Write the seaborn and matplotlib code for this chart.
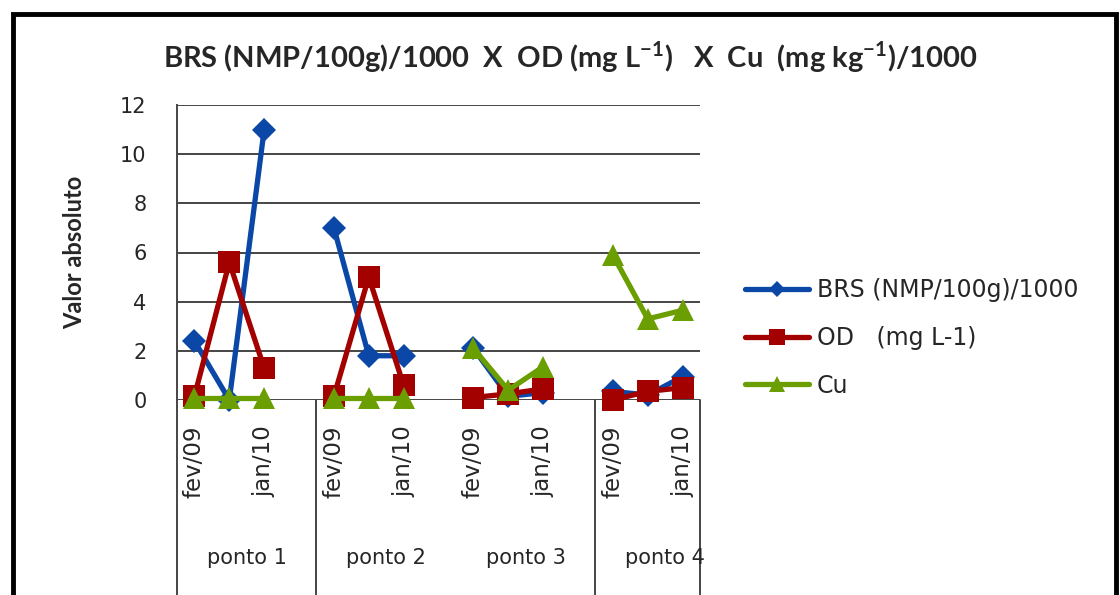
import numpy as np
import pandas as pd
import matplotlib
matplotlib.use("Agg")
import matplotlib.pyplot as plt
import seaborn as sns
from matplotlib.lines import Line2D

# ---- data ----
groups = ["ponto 1", "ponto 2", "ponto 3", "ponto 4"]
months = ["fev/09", "", "jan/10"]
brs = [2.4, 0.0, 11.0, 7.0, 1.8, 1.8, 2.1, 0.15, 0.3, 0.35, 0.2, 0.95]
od = [0.15, 5.6, 1.3, 0.15, 5.0, 0.6, 0.1, 0.25, 0.45, 0.0, 0.35, 0.5]
cu = [0.1, 0.1, 0.1, 0.1, 0.1, 0.1, 2.1, 0.4, 1.35, 5.9, 3.3, 3.65]
series_names = ["BRS (NMP/100g)/1000", "OD   (mg L-1)", "Cu"]
yticks = [0, 2, 4, 6, 8, 10, 12]

sns.set_theme(style="white")
plt.rcParams["font.family"] = ["DejaVu Sans"]
plt.rcParams["mathtext.fontset"] = "custom"
plt.rcParams["mathtext.rm"] = "Lato:bold"
plt.rcParams["mathtext.bf"] = "Lato:bold"

rows = []
for s_name, vals in zip(series_names, [brs, od, cu]):
    for i, v in enumerate(vals):
        g = i // 3
        k = i % 3
        rows.append({"pos": g * 4 + k, "val": v, "series": s_name, "grp": groups[g]})
df = pd.DataFrame(rows)

colors = {series_names[0]: "#0A47A6", series_names[1]: "#A30000", series_names[2]: "#6B9E00"}
markers = {series_names[0]: "D", series_names[1]: "s", series_names[2]: "^"}
msizes = {series_names[0]: 12, series_names[1]: 16, series_names[2]: 16}
leg_msizes = {series_names[0]: 8, series_names[1]: 12, series_names[2]: 11}

fig = plt.figure(figsize=(11.2, 5.95), dpi=100)
ax = fig.add_axes([177 / 1120, 1 - 400 / 595, (700 - 177) / 1120, 295 / 595])

for s_name in series_names:
    sub = df[df["series"] == s_name]
    sns.lineplot(data=sub, x="pos", y="val", units="grp", estimator=None,
                 color=colors[s_name], marker=markers[s_name], markersize=msizes[s_name],
                 markeredgewidth=0, linewidth=3.8, ax=ax, clip_on=False, legend=False)

ax.set_xlim(-0.5, 14.5)
ax.set_ylim(0, 12)
ax.set_yticks(yticks)
ax.set_yticklabels([str(t) for t in yticks], fontsize=15)
ax.tick_params(axis="y", pad=22, length=0)
ax.set_xticks([])
ax.set_xlabel("")
ax.set_ylabel("Valor absoluto", fontsize=17, fontweight="bold", labelpad=24, family="Lato")
ax.grid(axis="y", color="#454545", linewidth=1.4)
ax.set_axisbelow(True)
for sp in ["top", "right", "bottom"]:
    ax.spines[sp].set_visible(False)
ax.spines["left"].set_color("#454545")
ax.spines["left"].set_linewidth(1.4)

trans = matplotlib.transforms.blended_transform_factory(ax.transData, ax.transAxes)
# separators of category groups
for xs in [-0.5, 3.5, 11.5, 14.5]:
    ax.plot([xs, xs], [0, -0.665], transform=trans, color="#454545", lw=1.4, clip_on=False)

# month tick labels
for g in range(4):
    for k, m in enumerate(months):
        if m:
            ax.text(g * 4 + k, -0.085, m, transform=trans, rotation=90, ha="center", va="top",
                    fontsize=16.5)
    ax.text(g * 4 + 1.5, -0.535, groups[g], transform=trans, ha="center", va="center",
            fontsize=15)

# title
fig.text(570 / 1120, 1 - 57 / 595,
         r"BRS (NMP/100g)/1000  X  OD (mg L$^{-1}$)   X  Cu  (mg kg$^{-1}$)/1000",
         ha="center", va="center", fontsize=21, fontweight="bold", family="Lato")

# legend
handles = [Line2D([0], [0], color=colors[s], lw=3.8, marker=markers[s],
                  markersize=leg_msizes[s], markeredgewidth=0) for s in series_names]
leg = fig.legend(handles, series_names, loc="center left",
                 bbox_to_anchor=(745 / 1120, 1 - 338 / 595), frameon=False,
                 borderpad=0, borderaxespad=0,
                 fontsize=17, handlelength=2.7, handletextpad=0.35, labelspacing=1.0)

# outer frame
fig.patches.append(plt.Rectangle((13 / 1120, -0.05), (1116 - 13) / 1120, 1 - 14 / 595 + 0.05,
                                 transform=fig.transFigure, fill=False, edgecolor="black",
                                 linewidth=3.5))

fig.savefig("out.png", dpi=100)
